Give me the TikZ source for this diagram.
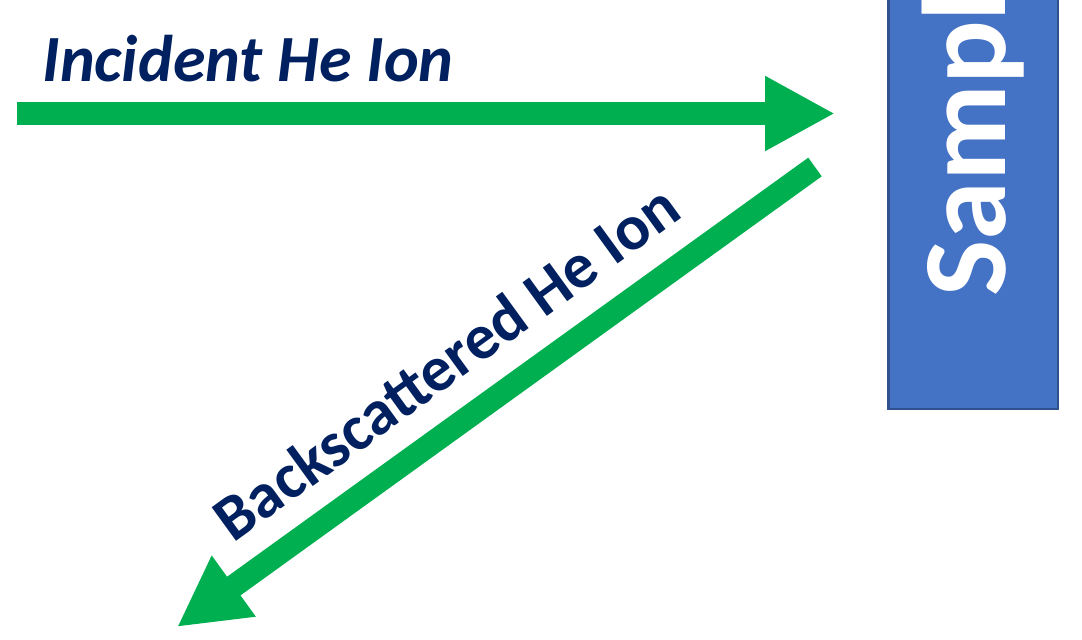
\documentclass[tikz,border=0pt]{standalone}
\usepackage{fontspec}
\setmainfont{Carlito}
\usetikzlibrary{arrows.meta}
\definecolor{ionGreen}{HTML}{00B050}
\definecolor{navyText}{HTML}{002060}
\definecolor{sampleBlue}{HTML}{4472C4}
\definecolor{sampleEdge}{HTML}{2F528F}
\tikzset{
  beam/.style={draw=ionGreen, line width=23pt, -{Triangle[length=70pt,width=70pt]}},
  ionlabel/.style={text=navyText, font=\fontsize{64}{64}\selectfont\bfseries, inner sep=0pt, anchor=base},
  samplebox/.style={draw=sampleEdge, fill=sampleBlue, line width=2.5pt, inner sep=0pt},
  samplelabel/.style={text=white, font=\fontsize{119}{119}\selectfont\bfseries, inner sep=0pt, anchor=base west, rotate=90}
}
\begin{document}
\begin{tikzpicture}[x=1pt,y=-1pt]
\useasboundingbox (0,0) rectangle (1082,640);
\clip (0,0) rectangle (1082,640);
\node[samplebox, minimum width=169.5pt, minimum height=592pt] (sample) at (973,113) {};
\node[samplelabel] (sampleLabel) at (1005,297) {Sample};
\coordinate (incStart) at (17,113.5);
\coordinate (incEnd) at (835,113.5);
\coordinate (backStart) at (815,167);
\coordinate (backEnd) at (177,627);
\draw[beam] (incStart) -- (incEnd);
\draw[beam] (backStart) -- (backEnd);
\node[ionlabel, font=\fontsize{66}{66}\selectfont\bfseries\itshape] (incLabel) at (248,81) {Incident He Ion};
\node[ionlabel, rotate=36] (backLabel) at (459,380) {Backscattered He Ion};
\end{tikzpicture}
\end{document}
